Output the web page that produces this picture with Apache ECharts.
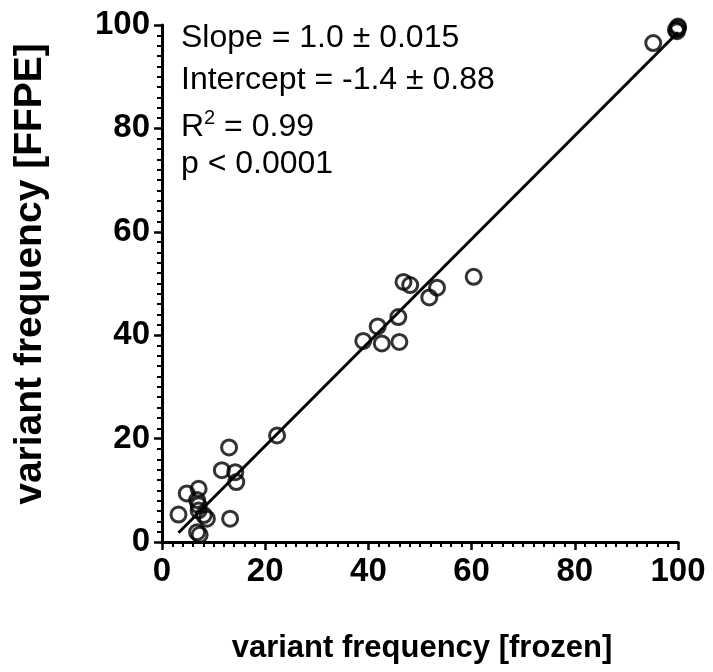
<!DOCTYPE html>
<html><head><meta charset="utf-8">
<script src="https://cdn.jsdelivr.net/npm/echarts@6/dist/echarts.min.js"></script>
<style>html,body{margin:0;padding:0;background:#fff}#c{width:713px;height:672px}</style>
</head><body><div id="c"></div>
<script>
// variant frequency (%) per variant: frozen vs FFPE
const frozen = [100, 99.6, 99.8, 100, 95.2,
  39.0, 41.8, 42.6, 46.0, 45.8, 46.8, 48.1, 51.8, 53.3, 60.4,
  22.3, 13.0, 11.6, 14.2, 14.4, 13.2, 7.1, 4.8, 3.2, 6.8, 7.1, 7.1, 8.1, 8.7, 6.8, 7.3];
const ffpe = [99.4, 99.1, 98.8, 99.7, 96.5,
  38.9, 41.7, 38.4, 38.7, 43.5, 50.3, 49.7, 47.3, 49.2, 51.3,
  20.6, 18.3, 13.9, 13.5, 11.6, 4.5, 10.3, 9.4, 5.3, 8.1, 7.1, 6.1, 5.2, 4.5, 1.9, 1.4];
const fitSlope = 1.0;
const fitIntercept = -1.4;
const fitRange = [3.2, 100];
const xTitle = 'variant frequency [frozen]';
const yTitle = 'variant frequency [FFPE]';
const axisMin = 0, axisMax = 100, axisStep = 20;

const points = frozen.map((x, i) => [x, ffpe[i]]);
const fitLine = fitRange.map(x => [x, fitSlope * x + fitIntercept]);

const FONT = '"Liberation Sans", Arial, Helvetica, sans-serif';
const chart = echarts.init(document.getElementById('c'));

function axis(isX) {
  return {
    type: 'value', min: axisMin, max: axisMax, interval: axisStep,
    axisLine: { show: true, onZero: false, lineStyle: { color: '#000', width: 3 } },
    axisTick: { show: true, length: 8, lineStyle: { color: '#000', width: 2.5 } },
    minorTick: { show: true, splitNumber: 10, length: 5, lineStyle: { color: '#000', width: 2 } },
    splitLine: { show: false },
    minorSplitLine: { show: false },
    axisLabel: { color: '#000', fontSize: 33, fontWeight: 'bold', fontFamily: FONT, margin: isX ? 13 : 12 }
  };
}

chart.setOption({
  animation: false,
  backgroundColor: '#fff',
  grid: { left: 162, top: 25, width: 516, height: 517 },
  xAxis: axis(true),
  yAxis: axis(false),
  graphic: [
    { type: 'text', x: 422, y: 648,
      style: { text: xTitle, fontSize: 31, fontWeight: 'bold', fontFamily: FONT, fill: '#000',
               align: 'center', verticalAlign: 'middle' } },
    { type: 'text', x: 30, y: 274, rotation: Math.PI / 2,
      style: { text: yTitle, fontSize: 39, fontWeight: 'bold', fontFamily: FONT, fill: '#000',
               align: 'center', verticalAlign: 'middle' } },
    { type: 'text', x: 181, y: 38,
      style: { text: 'Slope = 1.0 ± 0.015', fontSize: 32, fontFamily: FONT, fill: '#000', verticalAlign: 'middle' } },
    { type: 'text', x: 181, y: 80,
      style: { text: 'Intercept = -1.4 ± 0.88', fontSize: 32, fontFamily: FONT, fill: '#000', verticalAlign: 'middle' } },
    { type: 'text', x: 181, y: 126,
      style: { text: '{n|R}{s|2}{n| = 0.99}', fontFamily: FONT, fill: '#000', verticalAlign: 'middle',
               rich: { n: { fontSize: 32, fontFamily: FONT, verticalAlign: 'bottom' },
                       s: { fontSize: 20, fontFamily: FONT, verticalAlign: 'top', padding: [0, 0, 15, 0] } } } },
    { type: 'text', x: 181, y: 164,
      style: { text: 'p < 0.0001', fontSize: 32, fontFamily: FONT, fill: '#000', verticalAlign: 'middle' } }
  ],
  series: [
    { type: 'line', data: fitLine, symbol: 'none', silent: true,
      lineStyle: { color: '#000', width: 3 }, z: 1 },
    { type: 'scatter', data: points, symbol: 'circle', symbolSize: 15,
      itemStyle: { color: 'rgba(0,0,0,0)', borderColor: '#000', borderWidth: 3 }, z: 2 }
  ]
});
</script></body></html>
